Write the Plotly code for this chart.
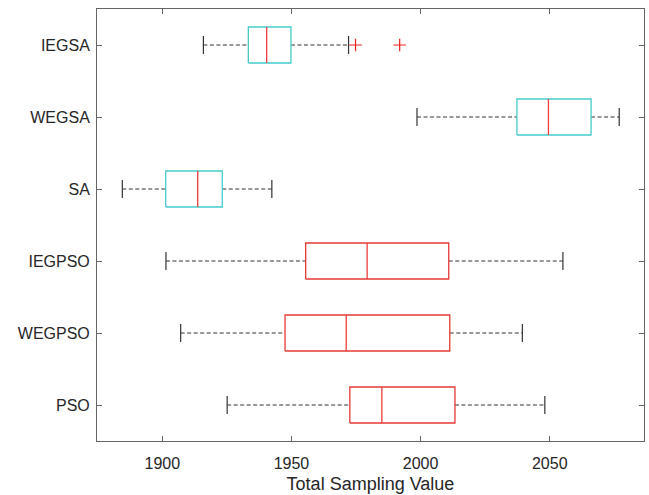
import plotly.graph_objects as go

# Algorithms, listed bottom to top
algorithms = ["PSO", "WEGPSO", "IEGPSO", "SA", "WEGSA", "IEGSA"]

# Box statistics of the total sampling value per algorithm
lower_whisker = [1925.1, 1907.1, 1901.4, 1884.5, 1998.6, 1915.9]
q1 = [1972.6, 1947.5, 1955.5, 1901.3, 2037.3, 1933.3]
median = [1985.0, 1971.2, 1979.3, 1913.7, 2049.5, 1940.4]
q3 = [2013.3, 2011.3, 2010.9, 1923.2, 2066.0, 1949.8]
upper_whisker = [2048.1, 2039.4, 2055.1, 1942.4, 2076.9, 1972.1]

# Outliers (algorithm, value)
outlier_algorithm = ["IEGSA", "IEGSA"]
outlier_value = [1974.8, 1991.9]

box_colors = ["#E53935", "#E53935", "#E53935", "#45CBCB", "#45CBCB", "#45CBCB"]
median_color = "#EE3B3B"
whisker_color = "#333333"

BOX_HALF = 0.25
CAP_HALF = 0.125

fig = go.Figure()

pos = {name: i + 1 for i, name in enumerate(algorithms)}

# dashed whiskers and their end caps
wx, wy = [], []
cx, cy = [], []
for i, name in enumerate(algorithms):
    y = pos[name]
    wx += [lower_whisker[i], q1[i], None, q3[i], upper_whisker[i], None]
    wy += [y, y, None, y, y, None]
    cx += [lower_whisker[i], lower_whisker[i], None, upper_whisker[i], upper_whisker[i], None]
    cy += [y - CAP_HALF, y + CAP_HALF, None, y - CAP_HALF, y + CAP_HALF, None]

fig.add_trace(go.Scatter(x=wx, y=wy, mode="lines", hoverinfo="skip",
                         line=dict(color=whisker_color, width=1, dash="4px,2.5px")))
fig.add_trace(go.Scatter(x=cx, y=cy, mode="lines", hoverinfo="skip",
                         line=dict(color=whisker_color, width=1.2)))

# boxes and medians
for i, name in enumerate(algorithms):
    y = pos[name]
    fig.add_trace(go.Scatter(
        x=[q1[i], q3[i], q3[i], q1[i], q1[i]],
        y=[y - BOX_HALF, y - BOX_HALF, y + BOX_HALF, y + BOX_HALF, y - BOX_HALF],
        mode="lines", hoverinfo="skip",
        line=dict(color=box_colors[i], width=1.3)))
    fig.add_trace(go.Scatter(
        x=[median[i], median[i]], y=[y - BOX_HALF, y + BOX_HALF],
        mode="lines", hoverinfo="skip",
        line=dict(color=median_color, width=1.3)))

# outliers
fig.add_trace(go.Scatter(
    x=outlier_value, y=[pos[a] for a in outlier_algorithm],
    mode="markers", hoverinfo="skip",
    marker=dict(symbol="cross-thin", size=9, line=dict(color="#F01E1E", width=1.2))))

axis_style = dict(showline=True, linecolor="#666666", linewidth=1, mirror="ticks",
                  ticks="inside", ticklen=5, tickcolor="#666666", showgrid=False,
                  zeroline=False, tickfont=dict(family="Liberation Sans, Arial", size=16,
                                                color="#262626"))

fig.update_layout(
    width=649, height=495,
    margin=dict(l=97, r=5, t=9, b=54),
    paper_bgcolor="white", plot_bgcolor="white",
    showlegend=False,
    xaxis=dict(range=[1874.7, 2086.5], tickvals=[1900, 1950, 2000, 2050],
               ticklabelstandoff=8,
               title=dict(text="Total Sampling Value", standoff=6,
                          font=dict(family="Liberation Sans, Arial", size=18, color="#262626")),
               **axis_style),
    yaxis=dict(range=[0.5, 6.5], tickvals=[pos[a] for a in algorithms], ticktext=algorithms,
               ticklabelstandoff=3,
               **axis_style),
)

fig.write_html("out.html")
